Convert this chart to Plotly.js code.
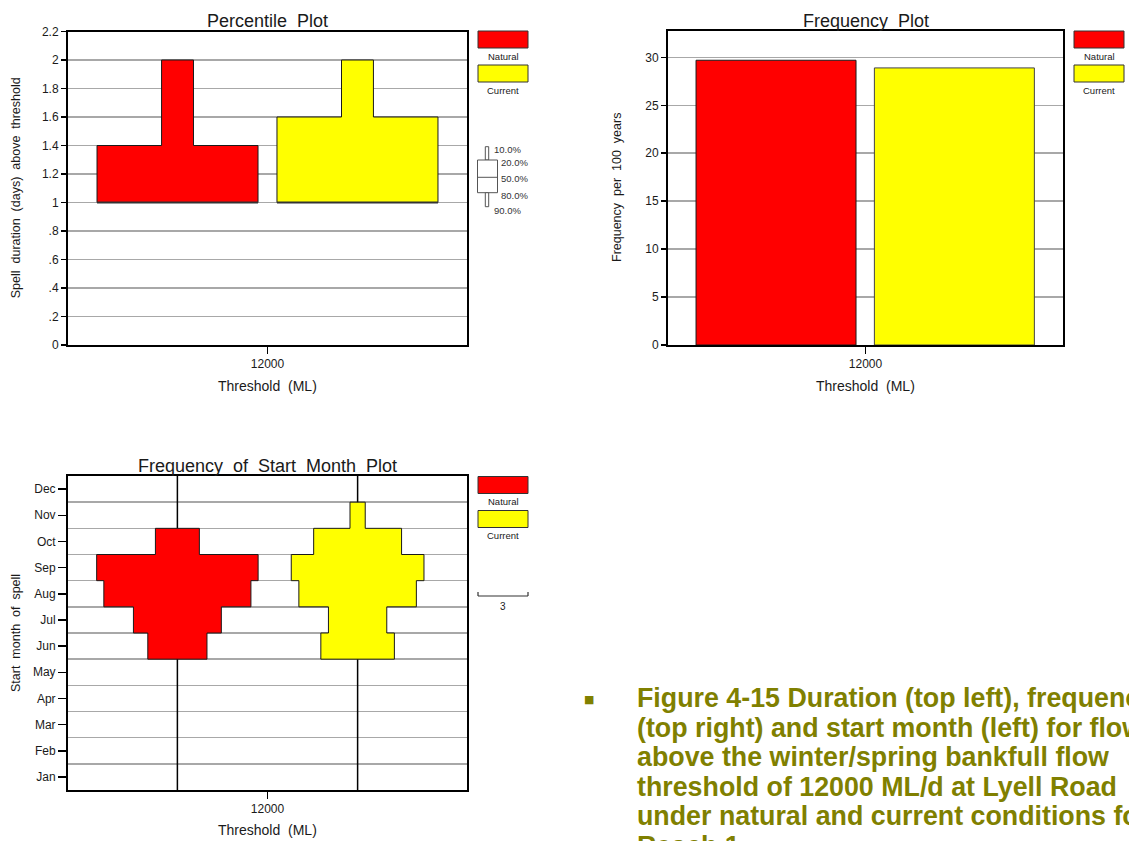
<!DOCTYPE html>
<html>
<head>
<meta charset="utf-8">
<script src="https://cdn.plot.ly/plotly-3.0.1.min.js"></script>
<style>
html,body{margin:0;padding:0;background:#fff;}
#chart{width:1129px;height:841px;}
</style>
</head>
<body>
<div id="chart"></div>
<script>
// ---------------- DATA ----------------
const thresholds = ['12000'];
const seriesNames = ['Natural', 'Current'];
const seriesColors = ['#ff0000', '#ffff00'];

// Percentile plot: spell duration (days) above threshold
const percentileLabels = ['10.0%', '20.0%', '50.0%', '80.0%', '90.0%'];
const naturalPercentiles = [2.0, 1.4, 1.0, 1.0, 1.0];
const currentPercentiles = [2.0, 1.6, 1.0, 1.0, 1.0];
const durationTickVals = [0, 0.2, 0.4, 0.6, 0.8, 1.0, 1.2, 1.4, 1.6, 1.8, 2.0, 2.2];
const durationTickText = ['0', '.2', '.4', '.6', '.8', '1', '1.2', '1.4', '1.6', '1.8', '2', '2.2'];

// Frequency plot: frequency per 100 years
const naturalFrequency = [29.7];
const currentFrequency = [28.9];

// Start month plot: frequency of spells starting in each month (per 100 years)
const months = ['Jan', 'Feb', 'Mar', 'Apr', 'May', 'Jun', 'Jul', 'Aug', 'Sep', 'Oct', 'Nov', 'Dec'];
const naturalMonthFreq = [0, 0, 0, 0, 0, 3.5, 5.2, 8.7, 9.55, 2.6, 0, 0];
const currentMonthFreq = [0, 0, 0, 0, 0, 4.35, 3.45, 6.95, 7.85, 5.2, 0.9, 0];
const scaleBarValue = 3;

const captionLines = [
  'Figure 4-15 Duration (top left), frequency',
  '(top right) and start month (left) for flows',
  'above the winter/spring bankfull flow',
  'threshold of 12000 ML/d at Lyell Road',
  'under natural and current conditions for',
  'Reach 1'
];

// ---------------- LAYOUT HELPERS ----------------
const W = 1129, H = 841;
const fx = p => p / W;
const fy = p => 1 - p / H;
const CF = 'Liberation Sans Narrow, Arial Narrow, Liberation Sans, Arial, sans-serif';
const TXT = '#1a1a1a';
const GRID = '#a8a8a8';
const OUT = '#1a1a1a';

// plot frames in pixels
const P1 = {l: 68, r: 467, t: 31.5, b: 345};
const P2 = {l: 668, r: 1063, t: 31, b: 345};
const P3 = {l: 68, r: 467, t: 476, b: 790};

// ---------------- TRACES ----------------
const traces = [];

// Percentile plot polygons (x axis: -1..1 units across the frame)
const p1Offset = 0.451, p1Half = 0.4035, p1Narrow = 0.08;
function percentilePolygon(c, p) {
  const [p10, p20, p50, p80, p90] = p;
  const xs = [c - p1Narrow, c + p1Narrow, c + p1Narrow, c + p1Half, c + p1Half, c + p1Narrow, c + p1Narrow,
              c - p1Narrow, c - p1Narrow, c - p1Half, c - p1Half, c - p1Narrow, c - p1Narrow];
  const ys = [p10, p10, p20, p20, p80, p80, p90, p90, p80, p80, p20, p20, p10];
  return {xs, ys};
}
[naturalPercentiles, currentPercentiles].forEach((p, i) => {
  const c = (i === 0 ? -1 : 1) * p1Offset;
  const poly = percentilePolygon(c, p);
  traces.push({
    type: 'scatter', mode: 'lines', x: poly.xs, y: poly.ys, fill: 'toself',
    fillcolor: seriesColors[i], line: {color: OUT, width: 1}, xaxis: 'x', yaxis: 'y',
    hoverinfo: 'skip', showlegend: false, name: seriesNames[i]
  });
  traces.push({
    type: 'scatter', mode: 'lines', x: [c - p1Half, c + p1Half], y: [p[2], p[2]],
    line: {color: '#333', width: 2}, xaxis: 'x', yaxis: 'y', hoverinfo: 'skip', showlegend: false
  });
});

// Frequency bars
traces.push({
  type: 'bar', x: [0], y: naturalFrequency, width: [0.81], offset: [-0.858],
  marker: {color: seriesColors[0], line: {color: OUT, width: 1}},
  xaxis: 'x2', yaxis: 'y2', hoverinfo: 'skip', showlegend: false, name: seriesNames[0]
});
traces.push({
  type: 'bar', x: [0], y: currentFrequency, width: [0.81], offset: [0.045],
  marker: {color: seriesColors[1], line: {color: '#444', width: 1}},
  xaxis: 'x2', yaxis: 'y2', hoverinfo: 'skip', showlegend: false, name: seriesNames[1]
});

// Start month plot: centre lines then polygons (x axis in frequency units)
const p3Range = 11.8, p3Offset = 5.33;
[-1, 1].forEach(s => {
  traces.push({
    type: 'scatter', mode: 'lines', x: [s * p3Offset, s * p3Offset], y: [0.5, months.length + 0.5],
    line: {color: '#000', width: 1.5}, xaxis: 'x3', yaxis: 'y3', hoverinfo: 'skip', showlegend: false
  });
});
function monthPolygon(c, f) {
  const idx = f.map((v, i) => v > 0 ? i : -1).filter(i => i >= 0);
  const first = idx[0], last = idx[idx.length - 1];
  const xs = [], ys = [];
  for (let i = first; i <= last; i++) {
    const m = i + 1;
    xs.push(c + f[i] / 2, c + f[i] / 2); ys.push(m - 0.5, m + 0.5);
  }
  for (let i = last; i >= first; i--) {
    const m = i + 1;
    xs.push(c - f[i] / 2, c - f[i] / 2); ys.push(m + 0.5, m - 0.5);
  }
  xs.push(xs[0]); ys.push(ys[0]);
  return {xs, ys};
}
[naturalMonthFreq, currentMonthFreq].forEach((f, i) => {
  const c = (i === 0 ? -1 : 1) * p3Offset;
  const poly = monthPolygon(c, f);
  traces.push({
    type: 'scatter', mode: 'lines', x: poly.xs, y: poly.ys, fill: 'toself',
    fillcolor: seriesColors[i], line: {color: OUT, width: 1}, xaxis: 'x3', yaxis: 'y3',
    hoverinfo: 'skip', showlegend: false, name: seriesNames[i]
  });
});

// ---------------- AXES ----------------
function frameAxis(extra) {
  return Object.assign({
    showline: true, linecolor: '#000', linewidth: 2, mirror: true, zeroline: false,
    ticks: 'outside', tickcolor: '#000', tickwidth: 1.5, fixedrange: true,
    tickfont: {family: CF, size: 12, color: TXT}
  }, extra);
}
const layout = {
  width: W, height: H, margin: {l: 0, r: 0, t: 0, b: 0},
  paper_bgcolor: '#fff', plot_bgcolor: '#fff', showlegend: false, barmode: 'overlay',
  xaxis: frameAxis({domain: [fx(P1.l), fx(P1.r)], range: [-1, 1], tickvals: [0], ticktext: thresholds,
    ticklen: 7, showgrid: false, anchor: 'y'}),
  yaxis: frameAxis({domain: [fy(P1.b), fy(P1.t)], range: [0, 2.2], tickvals: durationTickVals,
    ticktext: durationTickText, ticklen: 5, showgrid: true, gridcolor: GRID, gridwidth: 1.5, anchor: 'x'}),
  xaxis2: frameAxis({domain: [fx(P2.l), fx(P2.r)], range: [-1, 1], tickvals: [0], ticktext: thresholds,
    ticklen: 7, showgrid: false, anchor: 'y2'}),
  yaxis2: frameAxis({domain: [fy(P2.b), fy(P2.t)], range: [0, 32.75], tickvals: [0, 5, 10, 15, 20, 25, 30],
    ticklen: 5, showgrid: true, gridcolor: GRID, gridwidth: 1.5, anchor: 'x2'}),
  xaxis3: frameAxis({domain: [fx(P3.l), fx(P3.r)], range: [-p3Range, p3Range], tickvals: [0], ticktext: thresholds,
    ticklen: 7, showgrid: false, anchor: 'y3'}),
  yaxis3: frameAxis({domain: [fy(P3.b), fy(P3.t)], range: [0.5, 12.5], tickvals: months.map((m, i) => i + 1),
    ticktext: months, ticklen: 8, showgrid: false, anchor: 'x3',
    minor: {tickmode: 'array', tickvals: months.slice(1).map((m, i) => i + 1.5), showgrid: true,
      gridcolor: GRID, gridwidth: 1.5, ticks: ''}}),
  shapes: [],
  annotations: []
};

function ann(text, x, y, size, opts) {
  layout.annotations.push(Object.assign({
    text: text, xref: 'paper', yref: 'paper', x: fx(x), y: fy(y), showarrow: false,
    xanchor: 'center', yanchor: 'middle', font: {family: CF, size: size, color: TXT}
  }, opts || {}));
}
function rect(x0, y0, x1, y1, fill, lineColor) {
  layout.shapes.push({type: 'rect', xref: 'paper', yref: 'paper', x0: fx(x0), x1: fx(x1), y0: fy(y1), y1: fy(y0),
    fillcolor: fill, line: {color: lineColor || '#333', width: 1}});
}
function line(x0, y0, x1, y1, color, w) {
  layout.shapes.push({type: 'line', xref: 'paper', yref: 'paper', x0: fx(x0), x1: fx(x1), y0: fy(y0), y1: fy(y1),
    line: {color: color || '#333', width: w || 1}});
}

// titles
ann('Percentile  Plot', (P1.l + P1.r) / 2, 21, 18);
ann('Frequency  Plot', (P2.l + P2.r) / 2, 21, 18);
ann('Frequency  of  Start  Month  Plot', (P3.l + P3.r) / 2, 466, 18);
// x titles
ann('Threshold  (ML)', (P1.l + P1.r) / 2, 385.5, 14);
ann('Threshold  (ML)', (P2.l + P2.r) / 2, 386, 14);
ann('Threshold  (ML)', (P3.l + P3.r) / 2, 830, 14);
// y titles
ann('Spell  duration  (days)  above  threshold', 16, (P1.t + P1.b) / 2, 12.5, {textangle: -90});
ann('Frequency  per  100  years', 617, (P2.t + P2.b) / 2, 12.5, {textangle: -90});
ann('Start  month  of  spell', 16, (P3.t + P3.b) / 2, 12.5, {textangle: -90});

// legends
function seriesLegend(x0, y0) {
  seriesNames.forEach((n, i) => {
    const top = y0 + i * 34;
    rect(x0, top, x0 + 50, top + 17, seriesColors[i], '#333');
    ann(n, x0 + 25, top + 25, 9.5);
  });
}
seriesLegend(478, 31);
seriesLegend(1074, 31);
seriesLegend(478, 476.5);

// percentile key glyph
const gx = 487, gc = '#555';
rect(gx - 1.7, 146.7, gx + 1.7, 160, '#fff', gc);
rect(477.5, 160, 497.5, 192.7, '#fff', gc);
line(477.5, 177.3, 497.5, 177.3, gc, 1);
rect(gx - 1.7, 192.7, gx + 1.7, 206.7, '#fff', gc);
const keyPos = [[492, 149], [499, 163], [499, 179], [499, 196], [492, 210]];
percentileLabels.forEach((t, i) => {
  ann(t, keyPos[i][0], keyPos[i][1], 9.5, {xanchor: 'left', font: {family: CF, size: 9.5, color: '#333'}});
});

// scale bar
line(478, 596, 528, 596, '#333', 1.2);
line(478, 592, 478, 596, '#333', 1.2);
line(528, 592, 528, 596, '#333', 1.2);
ann(String(scaleBarValue), 503, 606, 10);

// caption
ann('\u25A0', 589, 699, 11, {font: {family: 'DejaVu Sans, sans-serif', size: 11, color: '#808000'}});
captionLines.forEach((t, i) => {
  ann('<b>' + t + '</b>', 635, 698 + i * 29.5, 26.8,
    {xanchor: 'left', font: {family: 'Liberation Sans, Arial, sans-serif', size: 26.8, color: '#808000'}});
});

Plotly.newPlot('chart', traces, layout, {staticPlot: true, displayModeBar: false});
</script>
</body>
</html>
